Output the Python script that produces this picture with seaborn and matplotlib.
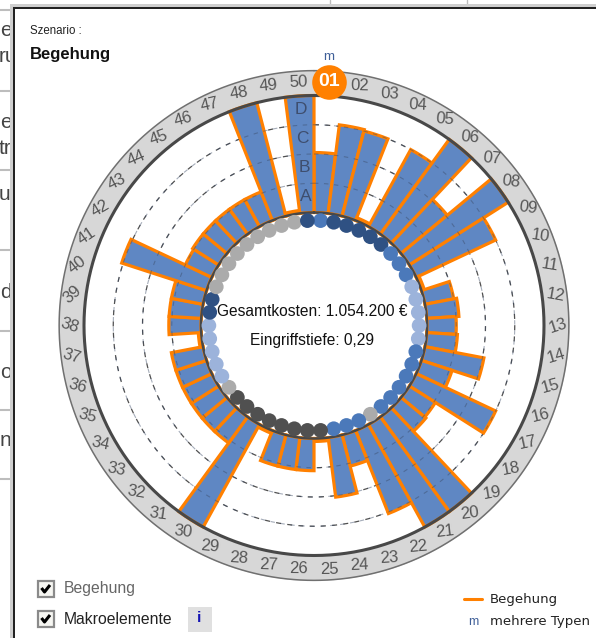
import numpy as np
import pandas as pd
import matplotlib
matplotlib.use("Agg")
import matplotlib.pyplot as plt
from matplotlib.patches import Rectangle
import seaborn as sns

# ---------- data ----------
sector_labels = [f"{i:02d}" for i in range(1, 51)]
levels = [2.05, 3.05, 3.0, 0.1, 3.0, 4.0, 2.05, 4.0, 3.0, 0.1,
          1.0, 1.1, 1.0, 1.05, 2.05, 1.1, 3.0, 1.05, 1.1, 4.0,
          4.0, 3.05, 1.1, 2.05, 0.1, 1.1, 1.1, 1.1, 0.1, 4.0,
          1.1, 1.1, 1.1, 1.1, 1.1, 1.1, 0.1, 1.1, 1.1, 1.1,
          3.05, 1.0, 1.05, 1.05, 1.05, 1.05, 1.05, 4.0, 0.1, 4.0]
dot_groups = (["mid"] + ["dark"] * 5 + ["mid"] * 3 + ["light"] * 5 + ["mid"] * 6 +
              ["gray"] + ["mid"] * 3 + ["char"] * 8 + ["gray"] + ["light"] * 5 +
              ["dark"] * 2 + ["gray"] * 9 + ["dark"])
ring_levels = [1, 2, 3]
band_names = ["A", "B", "C", "D"]
dot_palette = {"dark": "#2F5183", "mid": "#4B79BA", "light": "#9CB3DB",
               "gray": "#ABABAB", "char": "#505050"}
title_small = "Szenario :"
title_big = "Begehung"
info_lines = ["Gesamtkosten: 1.054.200 €", "Eingriffstiefe: 0,29"]
legend_labels = ["Begehung", "mehrere Typen"]
check_labels = ["Begehung", "Makroelemente"]
side_text = ["e", "ru", "e", "tr", "ui", "d", "o", "n"]

# ---------- style ----------
sns.set_theme(style="white")
plt.rcParams["font.family"] = ["Liberation Sans", "DejaVu Sans"]
W, H = 596, 638
CX, CY = 314, 325.5
R0, UNIT = 113.0, 29.25        # pixel radius of level 0, pixels per level
RING_OUT = 4.87
ORANGE = "#FF8000"
BAR = "#5F87C3"
TXT = "#555555"

fig = plt.figure(figsize=(W / 100, H / 100), dpi=100, facecolor="white")

# ---------- window chrome (pixel coordinates) ----------
bg = fig.add_axes([0, 0, 1, 1])
bg.set_xlim(0, W); bg.set_ylim(H, 0); bg.axis("off")
for y, t in zip([30, 56, 122, 148, 195, 293, 373, 440], side_text):
    bg.text(-1 if t in ("ru", "tr", "ui") else 0, y, t, fontsize=15, color="#444444",
            va="center", ha="left")
for y in [10, 91, 170, 250, 331, 410, 479]:
    bg.plot([0, 11], [y, y], color="#BDBDBD", lw=1.5, solid_capstyle="butt")
bg.add_patch(Rectangle((0, -2), W, 7, fc="white", ec="none"))
for x in [330, 467]:
    bg.plot([x, x], [0, 4], color="#BDBDBD", lw=1)
bg.add_patch(Rectangle((10, 4), W, H, fc="#CFCFCF", ec="none", zorder=3))
bg.add_patch(Rectangle((13, 7), W, H, fc="#222222", ec="none", zorder=3))
bg.add_patch(Rectangle((14.5, 8.5), W, H, fc="white", ec="none", zorder=3))
Z = 5
bg.text(30, 31, title_small, fontsize=8.3, color="#222222", va="center", zorder=Z)
bg.text(30, 55, title_big, fontsize=12, weight="bold", color="#111111", va="center", zorder=Z)

for y, lab, col in zip([589, 619], check_labels, ["#666666", "#222222"]):
    bg.add_patch(Rectangle((38, y - 8), 15.5, 16, fc="#F6F6F2", ec="#8A8A8A", lw=1.6, zorder=Z))
    bg.plot([41.5, 44.5, 50], [y - 1, y + 3, y - 4], color="black", lw=2.2, zorder=Z + 1,
            solid_capstyle="butt")
    bg.text(64, y, lab, fontsize=11.3, color=col, va="center", zorder=Z)
bg.add_patch(Rectangle((188, 607), 24, 25, fc="#E0E0E0", ec="none", zorder=Z))
bg.text(199.5, 618.5, "i", fontsize=11, weight="bold", color="#1414B4", ha="center",
        va="center", zorder=Z + 1)

bg.plot([464, 482], [599, 599], color=ORANGE, lw=2.2, zorder=Z)
bg.text(490, 600, legend_labels[0], fontsize=9.5, family="DejaVu Sans", color="#222222",
        va="center", zorder=Z)
bg.text(473, 622, "m", fontsize=9, color="#3F5F98", ha="center", va="center", zorder=Z)
bg.text(490, 622, legend_labels[1], fontsize=9.5, family="DejaVu Sans", color="#222222",
        va="center", zorder=Z)

# ---------- polar chart ----------
rmax_px = R0 + RING_OUT * UNIT
ax = fig.add_axes([(CX - rmax_px) / W, 1 - (CY + rmax_px) / H,
                   2 * rmax_px / W, 2 * rmax_px / H], projection="polar")
ax.patch.set_alpha(0)
ax.set_theta_zero_location("N")
ax.set_theta_direction(-1)
rmin = -R0 / UNIT

n = len(levels)
step = 2 * np.pi / n
theta = (np.arange(n) + 0.5) * step
df = pd.DataFrame({"theta": theta, "level": levels, "label": sector_labels,
                   "group": dot_groups, "dot_r": -0.27})

# outer label ring
ring_t = np.linspace(0, 2 * np.pi, 721)
ax.fill_between(ring_t, 4.0, RING_OUT, color="#D7D7D7", lw=0, zorder=1)
ax.plot(ring_t, np.full_like(ring_t, RING_OUT - 0.02), color="#707070", lw=1.1, zorder=1.5, clip_on=False)

# dashed level rings
for lv in ring_levels:
    ax.plot(ring_t, np.full_like(ring_t, lv), color="#505050", lw=0.9, ls=(0, (4, 5)), zorder=1.5)

# bars
sns.barplot(data=df, x="theta", y="level", native_scale=True, width=1.0, color=BAR,
            saturation=1, edgecolor=ORANGE, linewidth=2.3, errorbar=None, ax=ax, zorder=2)
for p in ax.patches:
    p.set_joinstyle("miter")

# dashes above the bars, faintly visible in the reference
for lv in ring_levels:
    ax.plot(ring_t, np.full_like(ring_t, lv), color="#3A4A66", lw=0.8, ls=(0, (4, 5)),
            alpha=0.45, zorder=2.5)

# boundary circles
ax.plot(ring_t, np.full_like(ring_t, 4.0), color="#484848", lw=2.2, zorder=3)
ax.plot(ring_t, np.zeros_like(ring_t), color="#484848", lw=1.8, zorder=3)

# status dots
sns.scatterplot(data=df, x="theta", y="dot_r", hue="group", palette=dot_palette, s=112,
                marker="o", linewidth=0, legend=False, ax=ax, zorder=4)

# sector labels
for t, lab in zip(theta[1:], sector_labels[1:]):
    deg = np.degrees(t)
    if deg <= 90:
        rot = -deg * 0.12
    elif deg <= 270:
        rot = (180 - deg) * 0.2
    else:
        rot = (360 - deg) * 0.5
    ax.text(t, 4.48, lab, fontsize=12, color=TXT, ha="center", va="center",
            rotation=rot, rotation_mode="anchor", zorder=5)

# band letters on the last sector
for i, b in enumerate(band_names):
    ax.text(theta[-1], i + 0.55, b, fontsize=12.5, color="#3E4E6E", ha="center", va="center", zorder=5)

# selected sector badge
ax.scatter([theta[0]], [4.48], s=620, color=ORANGE, zorder=6, clip_on=False, linewidth=0)
ax.text(theta[0], 4.48, sector_labels[0], color="white", fontsize=14, weight="bold",
        ha="center", va="center", zorder=7)

ax.set_ylim(rmin, RING_OUT)
ax.set_xticks([]); ax.set_yticks([])
ax.set_xlabel(""); ax.set_ylabel("")
ax.grid(False)
ax.spines["polar"].set_visible(False)

# overlay text in pixels
top = fig.add_axes([0, 0, 1, 1])
top.set_xlim(0, W); top.set_ylim(H, 0); top.axis("off"); top.patch.set_alpha(0)
top.text(312, 311, info_lines[0], fontsize=11.2, color="#111111", ha="center", va="center")
top.text(312, 340, info_lines[1], fontsize=11.2, color="#111111", ha="center", va="center")
top.text(329, 57, "m", fontsize=9.5, color="#3F5F98", ha="center", va="center")

fig.savefig("out.png", dpi=100)
